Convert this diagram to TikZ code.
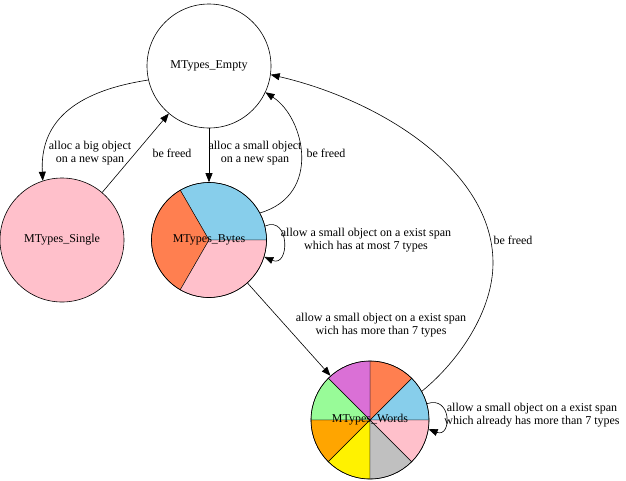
\documentclass[tikz,border=0pt]{standalone}
\usepackage{fontspec}
\setmainfont{Liberation Serif}
\usetikzlibrary{arrows.meta,backgrounds}
\definecolor{skyblue}{RGB}{135,206,235}
\definecolor{coral}{RGB}{255,127,80}
\definecolor{pinkish}{RGB}{255,192,203}
\definecolor{orchid}{RGB}{218,112,214}
\definecolor{palegreen}{RGB}{152,251,152}
\definecolor{orangey}{RGB}{255,165,0}
\definecolor{silvery}{RGB}{192,192,192}

\begin{document}
\begin{tikzpicture}[x=1pt,y=1pt,font=\fontsize{12}{13}\selectfont,
  >={Triangle[length=9pt,width=7pt]},line width=0.6pt]
\tikzstyle{state}=[draw,circle,inner sep=0pt]
\tikzstyle{lbl}=[align=center,inner sep=1pt]
\useasboundingbox (0,0) rectangle (626,-480);

\node[state,minimum size=124pt] (empty) at (209,-66) {MTypes\_Empty};
\node[state,minimum size=124pt,fill=pinkish] (single) at (62,-240) {MTypes\_Single};
\node[state,minimum size=115pt] (bytes) at (209,-240) {MTypes\_Bytes};
\node[state,minimum size=118pt] (words) at (370,-420) {MTypes\_Words};

% wedges behind the labels
\begin{scope}[on background layer]
\foreach \a/\c in {0/skyblue,120/coral,240/pinkish}
  \filldraw[fill=\c] (bytes.center) -- ++(\a:57.5pt)
    arc[start angle=\a,end angle=\a+120,radius=57.5pt] -- cycle;
\foreach \a/\c in {0/skyblue,45/coral,90/orchid,135/palegreen,
  180/orangey,225/yellow,270/silvery,315/pinkish}
  \filldraw[fill=\c] (words.center) -- ++(\a:59pt)
    arc[start angle=\a,end angle=\a+45,radius=59pt] -- cycle;
\end{scope}

\draw[->] (empty.193) .. controls (70,-92) and (40,-125) .. (single.108);
\node[lbl] (l1) at (90,-153) {alloc a big object\\on a new span};

\draw[->] (single) -- (empty);
\node[lbl] (l2) at (172,-153) {be freed};

\draw[->] (empty) -- (bytes);
\node[lbl] (l3) at (255,-153) {alloc a small object\\on a new span};

\draw[->] (bytes.28) .. controls (322,-195) and (305,-118) .. (empty.-25);
\node[lbl] (l4) at (326,-153) {be freed};

\draw[->] (bytes.14) .. controls (290,-215) and (290,-268) .. (bytes.-17);
\node[lbl] (l5) at (366,-240) {allow a small object on a exist span\\which has at most 7 types};

\draw[->] (bytes) -- (words);
\node[lbl] (l6) at (381,-325) {allow a small object on a exist span\\wich has more than 7 types};

\coordinate (far) at (493,-263);
\draw[->] (words.29) .. controls (460,-360) and (493,-310) .. (far)
  .. controls (493,-170) and (380,-100) .. (empty.-8);
\node[lbl] (l7) at (513,-240) {be freed};

\draw[->] (words.16) .. controls (452,-395) and (452,-438) .. (words.-9);
\node[lbl] (l8) at (532,-415) {allow a small object on a exist span\\which already has more than 7 types};
\end{tikzpicture}
\end{document}
